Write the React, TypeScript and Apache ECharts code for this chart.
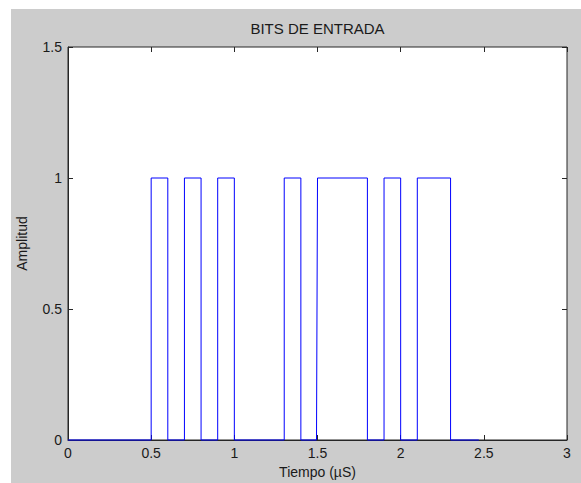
import React, { useEffect, useRef } from "react";
import * as echarts from "echarts";

// Time (µS) and amplitude of the step signal
const tiempo = [0, 0.5, 0.5, 0.6, 0.6, 0.7, 0.7, 0.8, 0.8, 0.9, 0.9, 1.0, 1.0, 1.3, 1.3, 1.4, 1.4, 1.494, 1.5, 1.8, 1.8, 1.9, 1.9, 2.0, 2.0, 2.1, 2.1, 2.3, 2.3, 2.47];
const amplitud = [0, 0, 1, 1, 0, 0, 1, 1, 0, 0, 1, 1, 0, 0, 1, 1, 0, 0, 1, 1, 0, 0, 1, 1, 0, 0, 1, 1, 0, 0];

const xTicks = [0, 0.5, 1, 1.5, 2, 2.5, 3];
const yTicks = [0, 0.5, 1, 1.5];

const titulo = "BITS DE ENTRADA";
const xNombre = "Tiempo (µS)";
const yNombre = "Amplitud";

const FONT = "'Liberation Sans', Arial, sans-serif";
const AXIS = "#262626";
const TXT = "#1a1a1a";

export default function App() {
  const ref = useRef<HTMLDivElement>(null);
  useEffect(() => {
    if (!ref.current) return;
    const chart = echarts.init(ref.current, null, { renderer: "svg" });
    const data = tiempo.map((t, i) => [t, amplitud[i]]);
    const xMin = xTicks[0];
    const xMax = xTicks[xTicks.length - 1];
    const xInt = xTicks[1] - xTicks[0];
    const yMin = yTicks[0];
    const yMax = yTicks[yTicks.length - 1];
    const yInt = yTicks[1] - yTicks[0];
    const tick = () => ({ show: true, inside: true, length: 5, lineStyle: { color: AXIS, width: 1 } });
    chart.setOption({
      animation: false,
      backgroundColor: "#cccccc",
      graphic: [
        {
          type: "text",
          x: 306.5,
          y: 19,
          style: {
            text: titulo,
            fontSize: 15,
            fontFamily: FONT,
            fill: TXT,
            textAlign: "center",
            textVerticalAlign: "middle",
          },
        },
      ],
      grid: {
        left: 57,
        right: 14,
        top: 38,
        bottom: 43,
        show: true,
        containLabel: false,
        outerBoundsMode: "none",
        backgroundColor: "#ffffff",
        borderColor: AXIS,
        borderWidth: 1,
      },
      xAxis: [
        {
          type: "value",
          min: xMin,
          max: xMax,
          interval: xInt,
          position: "bottom",
          axisLine: { show: true, onZero: false, lineStyle: { color: AXIS, width: 1 } },
          axisTick: tick(),
          splitLine: { show: false },
          axisLabel: { color: TXT, fontSize: 14, fontFamily: FONT, margin: 6 },
          name: xNombre,
          nameLocation: "middle",
          nameGap: 24,
          nameTextStyle: { color: TXT, fontSize: 14, fontFamily: FONT },
        },
        {
          type: "value",
          min: xMin,
          max: xMax,
          interval: xInt,
          position: "top",
          axisLine: { show: false, onZero: false },
          axisTick: tick(),
          splitLine: { show: false },
          axisLabel: { show: false },
        },
      ],
      yAxis: [
        {
          type: "value",
          min: yMin,
          max: yMax,
          interval: yInt,
          position: "left",
          axisLine: { show: true, onZero: false, lineStyle: { color: AXIS, width: 1 } },
          axisTick: tick(),
          splitLine: { show: false },
          axisLabel: { color: TXT, fontSize: 14, fontFamily: FONT, margin: 6 },
          name: yNombre,
          nameLocation: "middle",
          nameGap: 39,
          nameTextStyle: { color: TXT, fontSize: 14, fontFamily: FONT },
        },
        {
          type: "value",
          min: yMin,
          max: yMax,
          interval: yInt,
          position: "right",
          axisLine: { show: false, onZero: false },
          axisTick: tick(),
          splitLine: { show: false },
          axisLabel: { show: false },
        },
      ],
      series: [
        {
          type: "line",
          data,
          showSymbol: false,
          clip: false,
          lineStyle: { color: "#0000ff", width: 1 },
          itemStyle: { color: "#0000ff" },
          z: 5,
        },
      ],
    });
    return () => chart.dispose();
  }, []);
  return (
    <div
      ref={ref}
      style={{ position: "absolute", left: 11, top: 9, width: 570, height: 474 }}
    />
  );
}
